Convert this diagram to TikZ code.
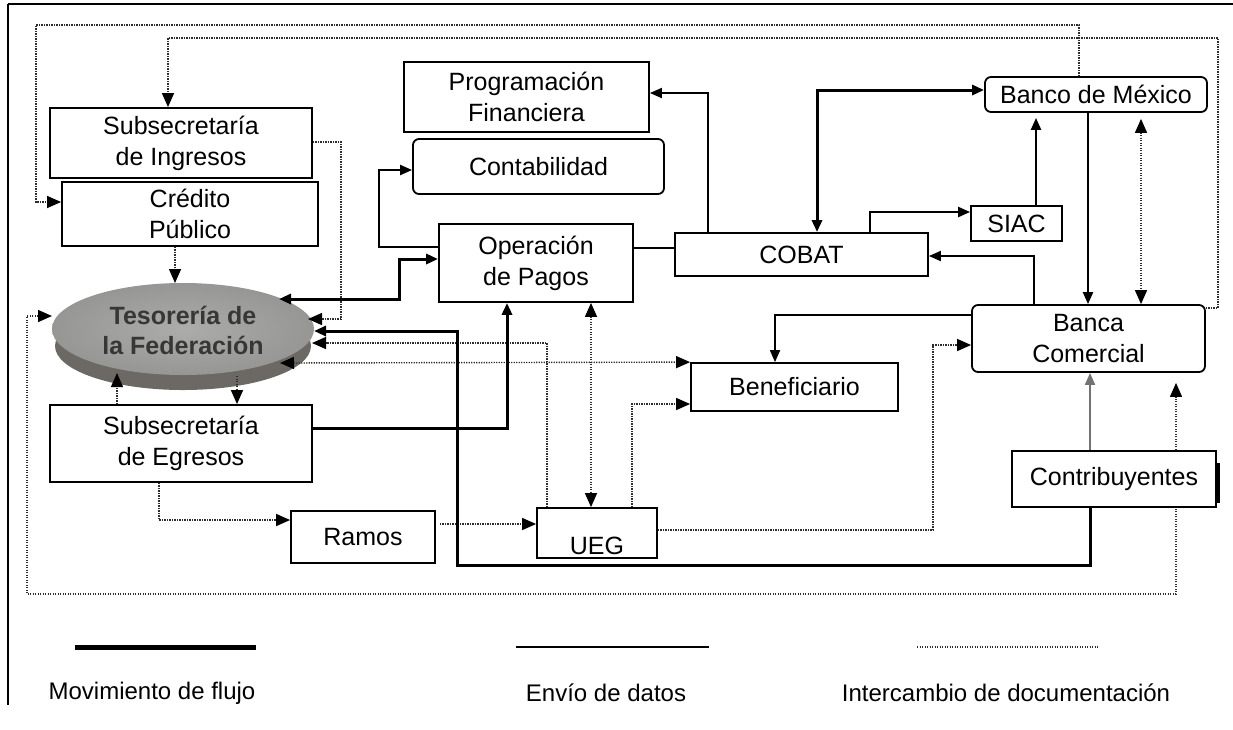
\documentclass[tikz,border=0pt]{standalone}
\usepackage{fontspec}
\setmainfont{Liberation Sans}
\usetikzlibrary{arrows.meta,shapes.geometric,calc}
\pgfdeclarelayer{background}
\pgfsetlayers{background,main}
\definecolor{facecol}{RGB}{150,150,148}
\definecolor{faceinner}{RGB}{172,172,170}
\definecolor{rimcol}{RGB}{108,105,100}
\definecolor{tesotext}{RGB}{55,55,55}
\definecolor{doccol}{RGB}{45,45,45}
\begin{document}
\begin{tikzpicture}[x=1pt,y=-1pt,
  box/.style={draw, fill=white, line width=1.8pt, inner sep=0pt, align=center, font=\fontsize{25}{31}\selectfont},
  rbox/.style={box, rounded corners=6pt},
  flow/.style={line width=3pt},
  mid/.style={line width=2.3pt},
  data/.style={line width=1.8pt},
  doc/.style={line width=1.4pt, doccol, dash pattern=on 1.3pt off 1.2pt, >={Triangle[length=14pt,width=12pt,color=black]}},
  legend/.style={font=\fontsize{24}{28}\selectfont},
  >={Triangle[length=12pt,width=10pt]},
]
\useasboundingbox (0,0) rectangle (1233,729);

% frame
\draw[line width=2.5pt] (8,4) -- (1233,4);
\draw[line width=1.5pt] (8,4) -- (8,705);

% nodes
\node[box, minimum width=262pt, minimum height=70pt] (sing) at (181,143) {Subsecretaría\\de Ingresos};
\node[box, minimum width=256pt, minimum height=64pt] (cre) at (190,214) {Crédito\\Público};
\node[box, minimum width=245pt, minimum height=70pt] (pfin) at (526.5,97) {Programación\\Financiera};
\node[rbox, minimum width=251pt, minimum height=55pt] (cont) at (538.5,166.5) {Contabilidad};
\node[box, minimum width=194pt, minimum height=78pt] (ope) at (536,263) {Operación\\de Pagos};
\node[box, minimum width=253pt, minimum height=43pt] (cob) at (801.5,254.5) {COBAT};
\node[rbox, minimum width=222pt, minimum height=35pt] (bmx) at (1096,94.5) {Banco de México};
\node[box, minimum width=91pt, minimum height=35pt] (siac) at (1016.5,223.5) {SIAC};
\node[rbox, minimum width=233pt, minimum height=67pt] (bcm) at (1088.5,338.5) {Banca\\Comercial};
\node[box, minimum width=207pt, minimum height=48pt] (ben) at (794.5,387) {Beneficiario};
\node[box, minimum width=204pt, minimum height=56pt] (con) at (1114,479) {Contribuyentes};
\draw[line width=3pt] (1218,463) -- (1218,503);
\node[box, minimum width=262pt, minimum height=77pt] (segr) at (181,443.5) {Subsecretaría\\de Egresos};
\node[box, minimum width=144pt, minimum height=52pt] (ram) at (363,537) {Ramos};
\node[box, minimum width=120pt, minimum height=50pt, text height=42pt, text depth=0pt] (ueg) at (597,533) {UEG};
\node[ellipse, minimum width=262pt, minimum height=106pt, inner sep=0pt, align=center,
      font=\fontsize{25}{30}\selectfont\bfseries, text=tesotext] (tes) at (183,330) {Tesorería de\\la Federación};

\begin{pgfonlayer}{background}
% coin
\fill[rimcol] (183,346) ellipse [x radius=128pt, y radius=44pt];
\shade[inner color=faceinner, outer color=facecol] (183,329) ellipse [x radius=131pt, y radius=46pt];

% documentation exchange (dotted)
\draw[doc,->] (bmx.north -| 1079,0) -- (1079,25) -- (36,25) -- (36,202) -- (cre.west |- 0,202);
\draw[doc,->] (bcm.east |- 0,308) -- (1218,308) -- (1218,38) -- (168,38) -- (sing.north -| 168,0);
\draw[doc,->] (sing.east |- 0,142) -- (341,142) -- (341,319) -- ($(tes)+(125,-11)$);
\draw[doc,->] (cre.south -| 175,0) -- ($(tes)+(-8,-47)$);
\draw[doc,->] (ueg.north -| 547,0) -- (547,343) -- ($(tes)+(129,13)$);
\draw[doc,<->] ($(tes)+(97,33)$) -- (ben.north west);
\draw[doc,->] (segr.north -| 117,0) -- ($(tes)+(-66,43)$);
\draw[doc,->] ($(tes)+(54,46)$) -- (segr.north -| 237,0);
\draw[doc,<->] (ope.south -| 591,0) -- (ueg.north -| 591,0);
\draw[doc,->] (ueg.north -| 632,0) -- (632,404) -- (ben.west |- 0,404);
\draw[doc,->] (ueg.east |- 0,530) -- (933,530) -- (933,345) -- (bcm.west |- 0,345);
\draw[doc,->] (segr.south -| 159,0) -- (159,520) -- (ram.west |- 0,520);
\draw[doc,->,shorten <=4pt] (ram.east |- 0,524) -- (ueg.west |- 0,524);
\draw[doc,<->,shorten <=6pt] (bmx.south -| 1141,0) -- (bcm.north -| 1141,0);
\draw[doc,<->,shorten >=10pt] ($(tes)+(-131,-14)$) -- (27,316) -- (27,594) -- (1176,594) -- (bcm.south -| 1176,0);

% money flow (thick)
\draw[flow,<->] ($(tes)+(96,-31)$) -- (399,299) -- (399,259) -- (ope.west |- 0,259);
\draw[flow,->] (con.south -| 1090,0) -- (1090,565) -- (457,565) -- (457,331) -- ($(tes)+(131,1)$);
\draw[flow,->] (segr.east |- 0,428) -- (507,428) -- (ope.south -| 507,0);
\draw[flow,<->] (cob.north -| 817,0) -- (817,90) -- (bmx.west |- 0,90);
\draw[mid,->] (ope.west |- 0,247) -- (379,247) -- (379,170) -- (cont.west |- 0,170);
\draw[mid,->] (cob.north -| 870,0) -- (870,212) -- (siac.west |- 0,212);
\draw[mid,->,shorten >=5pt] (siac.north -| 1036,0) -- (bmx.south -| 1036,0);
\draw[mid,->] (bmx.south -| 1088,0) -- (bcm.north -| 1088,0);

% data (thin)
\draw[data,->] (cob.north -| 708,0) -- (708,93) -- (pfin.east |- 0,93);
\draw[data] (ope.east |- 0,248) -- (cob.west |- 0,248);
\draw[data,->] (bcm.north -| 1034,0) -- (1034,256) -- (cob.east |- 0,256);
\draw[data,->] (bcm.west |- 0,315) -- (775,315) -- (ben.north -| 775,0);
\draw[data,black!55,->] (con.north -| 1090,0) -- (bcm.south -| 1090,0);
\end{pgfonlayer}

% legend
\draw[line width=5pt] (75,647) -- (256,647);
\draw[line width=2.5pt] (516,647) -- (709,647);
\draw[doc,line width=1.6pt] (917,647) -- (1098,647);
\node[legend] (l1) at (152,693) {Movimiento de flujo};
\node[legend] (l2) at (606,693) {Envío de datos};
\node[legend] (l3) at (1006,693) {Intercambio de documentación};
\end{tikzpicture}
\end{document}
